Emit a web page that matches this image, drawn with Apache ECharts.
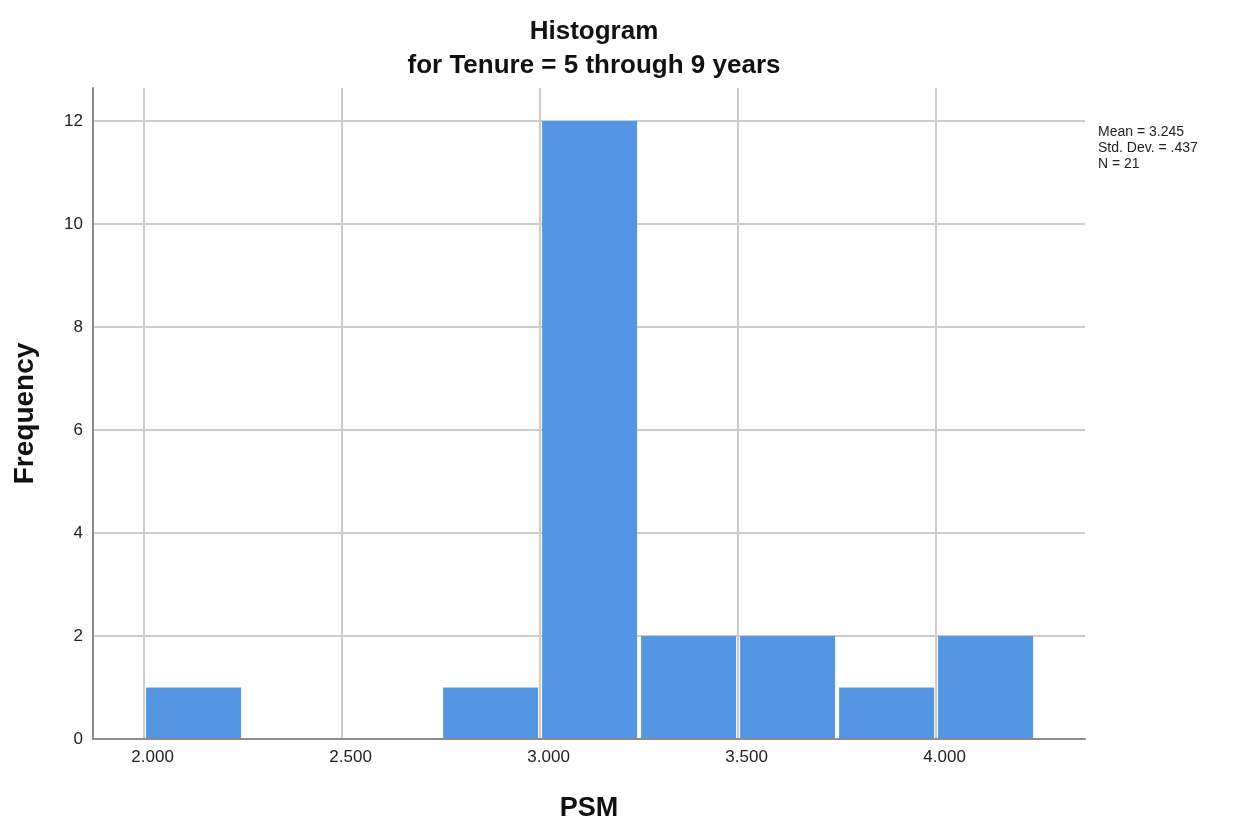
<!DOCTYPE html>
<html>
<head>
<meta charset="utf-8">
<script src="https://cdn.jsdelivr.net/npm/echarts@6/dist/echarts.min.js"></script>
<style>
  html, body { margin: 0; padding: 0; background: #fff; }
  #chart { width: 1234px; height: 820px; }
</style>
</head>
<body>
<div id="chart"></div>
<script>
// histogram bins (PSM), width 0.25
const binStarts = [2.0, 2.25, 2.5, 2.75, 3.0, 3.25, 3.5, 3.75, 4.0]
const binEnds = [2.25, 2.5, 2.75, 3.0, 3.25, 3.5, 3.75, 4.0, 4.25]
const counts = [1, 0, 0, 1, 12, 2, 2, 1, 2]
const xTicks = [2.0, 2.5, 3.0, 3.5, 4.0]
const yTicks = [0, 2, 4, 6, 8, 10, 12]
const statsLines = ['Mean = 3.245', 'Std. Dev. = .437', 'N = 21']

const font = '"Liberation Sans", Arial, sans-serif'
const barColor = '#5596e3'

const chart = echarts.init(document.getElementById('chart'))

const data = binStarts
  .map((s, i) => [s, binEnds[i], counts[i]])
  .filter((d) => d[2] > 0)

const option = {
  animation: false,
  title: {
    text: 'Histogram\nfor Tenure = 5 through 9 years',
    left: 589,
    top: 10,
    textAlign: 'center',
    textStyle: {
      fontFamily: font,
      fontSize: 26,
      fontWeight: 'bold',
      color: '#111',
      lineHeight: 34,
    },
  },
  grid: {
    left: 93,
    right: 149,
    top: 88,
    bottom: 81,
    outerBoundsMode: 'none',
  },
  xAxis: {
    type: 'value',
    min: 1.871,
    max: 4.376,
    name: 'PSM',
    nameLocation: 'middle',
    nameGap: 56,
    nameTextStyle: {
      fontFamily: font,
      fontSize: 27,
      fontWeight: 'bold',
      color: '#111',
    },
    axisLine: { lineStyle: { color: '#8c8c8c', width: 2 } },
    axisTick: { show: false, customValues: xTicks },
    axisLabel: {
      customValues: xTicks,
      formatter: (v) => v.toFixed(3),
      fontFamily: font,
      fontSize: 17,
      color: '#222',
      margin: 10,
      padding: [0, 0, 0, 17],
    },
    splitLine: { show: true, lineStyle: { color: '#cccccc', width: 2 } },
  },
  yAxis: {
    type: 'value',
    min: 0,
    max: 12.64,
    name: 'Frequency',
    nameLocation: 'middle',
    nameGap: 54,
    nameTextStyle: {
      fontFamily: font,
      fontSize: 28,
      fontWeight: 'bold',
      color: '#111',
    },
    axisLine: { show: true, lineStyle: { color: '#8c8c8c', width: 2 } },
    axisTick: { show: false, customValues: yTicks },
    axisLabel: {
      customValues: yTicks,
      fontFamily: font,
      fontSize: 17,
      color: '#222',
      margin: 10,
    },
    splitLine: { show: true, lineStyle: { color: '#cccccc', width: 2 } },
  },
  series: [
    {
      type: 'custom',
      data: data,
      encode: { x: [0, 1], y: 2 },
      renderItem: (params, api) => {
        const top = api.coord([api.value(0), api.value(2)])
        const bottom = api.coord([api.value(1), 0])
        return {
          type: 'rect',
          shape: {
            x: top[0] + 2,
            y: top[1],
            width: bottom[0] - top[0] - 4,
            height: bottom[1] - top[1] - 1,
          },
          style: { fill: barColor },
        }
      },
    },
  ],
  graphic: [
    {
      type: 'text',
      left: 1098,
      top: 124,
      style: {
        text: statsLines.join('\n'),
        fontFamily: font,
        fontSize: 14,
        lineHeight: 16,
        fill: '#222',
      },
    },
  ],
}

chart.setOption(option)
</script>
</body>
</html>
